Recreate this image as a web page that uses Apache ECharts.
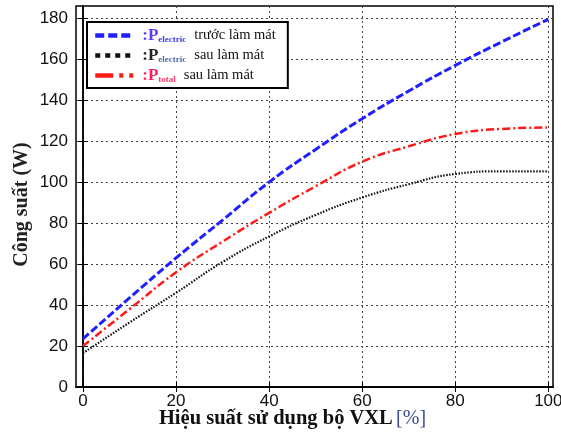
<!DOCTYPE html>
<html><head><meta charset="utf-8">
<script src="https://cdn.jsdelivr.net/npm/echarts@6/dist/echarts.min.js"></script>
<style>html,body{margin:0;padding:0;background:#fff}#c{width:561px;height:434px}</style>
</head><body><div id="c"></div>
<script>
const xValues = [0, 10, 20, 30, 40, 50, 60, 70, 80, 90, 100];
const pElecBefore = [23.5, 43.5, 63, 81.5, 100, 116, 131, 144.5, 157, 168.5, 179.5];
const pElecAfter = [16.5, 31.5, 46, 61, 73.5, 84, 92.5, 99, 104, 105.3, 105.3];
const pTotalAfter = [20, 38, 56, 71, 85, 98, 110, 117.5, 123.5, 126, 126.7];
const xTicks = [0, 20, 40, 60, 80, 100];
const yTicks = [0, 20, 40, 60, 80, 100, 120, 140, 160, 180];
const seriesNames = ['Pelectric trước làm mát', 'Pelectric sau làm mát', 'Ptotal sau làm mát'];
const xTitle = 'Hiệu suất sử dụng bộ VXL';
const xUnit = '[%]';
const yTitle = 'Công suất (W)';

const chart = echarts.init(document.getElementById('c'), null, {renderer: 'canvas'});
const pair = arr => xValues.map((x, i) => [x, arr[i]]);
const gridLine = {show: true, lineStyle: {color: '#444', width: 1, type: [2, 3]}};
const tickIn = vals => ({show: true, inside: true, length: 5, lineStyle: {color: '#000', width: 1}, customValues: vals});
const labelFont = {fontFamily: 'Liberation Sans', fontSize: 17, color: '#111'};

const legendFmt = {};
legendFmt[seriesNames[0]] = '{p1|:P}{s1|electric}{sp| }{t|trước làm mát}';
legendFmt[seriesNames[1]] = '{p2|:P}{s2|electric}{sp| }{t|sau làm mát}';
legendFmt[seriesNames[2]] = '{p3|:P}{s3|total}{sp| }{t|sau làm mát}';

chart.setOption({
  animation: false,
  backgroundColor: '#fff',
  grid: {left: 76, right: 8, top: 6, bottom: 47, containLabel: false, outerBoundsMode: 'none',
    show: true, borderColor: '#000', borderWidth: 1.5, backgroundColor: 'transparent'},
  xAxis: [{
    type: 'value', min: -1.5, max: 101, position: 'bottom',
    axisLine: {show: true, lineStyle: {color: '#000', width: 1.5}},
    axisTick: tickIn(xTicks),
    axisLabel: Object.assign({customValues: xTicks, margin: 6}, labelFont),
    splitLine: gridLine,
    name: '{b|' + xTitle + '} {u|' + xUnit + '}', nameLocation: 'middle', nameGap: 21, nameMoveOverlap: false,
    nameTextStyle: {
      padding: [0, 44, 0, 0],
      rich: {
        b: {fontFamily: 'Liberation Serif', fontWeight: 'bold', fontSize: 20.5, color: '#111'},
        u: {fontFamily: 'Liberation Serif', fontSize: 20, color: '#3c4c8c'}
      }
    }
  }, {
    type: 'value', min: -1.5, max: 101, position: 'top',
    axisLine: {show: true, lineStyle: {color: '#000', width: 1.5}},
    axisTick: tickIn(xTicks), axisLabel: {show: false}, splitLine: {show: false}
  }],
  yAxis: [{
    type: 'value', min: 0, max: 186, position: 'left',
    axisLine: {show: true, lineStyle: {color: '#000', width: 1.5}},
    axisTick: tickIn(yTicks),
    axisLabel: Object.assign({customValues: yTicks, margin: 8}, labelFont),
    splitLine: gridLine,
    name: yTitle, nameLocation: 'middle', nameGap: 44, nameRotate: 90, nameMoveOverlap: false,
    nameTextStyle: {fontFamily: 'Liberation Serif', fontWeight: 'bold', fontSize: 20, color: '#222', padding: [0, 16, 0, 0]}
  }, {
    type: 'value', min: 0, max: 186, position: 'right',
    axisLine: {show: true, lineStyle: {color: '#000', width: 1.5}},
    axisTick: tickIn(yTicks), axisLabel: {show: false}, splitLine: {show: false}
  }],
  legend: {
    orient: 'vertical', left: 87, top: 22,
    backgroundColor: '#fff', borderColor: '#000', borderWidth: 2,
    padding: [5, 12, 4, 6], itemGap: 3, itemWidth: 38, itemHeight: 16,
    data: [
      {name: seriesNames[0], itemStyle: {opacity: 0}, lineStyle: {width: 4.5, type: [9, 4], color: '#1f1fff'}},
      {name: seriesNames[1], itemStyle: {opacity: 0}, lineStyle: {width: 4.5, type: [5, 5], color: '#111'}},
      {name: seriesNames[2], itemStyle: {opacity: 0}, lineStyle: {width: 4.5, type: [18, 6, 4, 6], color: '#ff1a1a'}}
    ],
    formatter: function (name) { return legendFmt[name]; },
    textStyle: {
      fontFamily: 'Liberation Serif', fontSize: 14, color: '#111',
      rich: {
        p1: {fontFamily: 'Liberation Serif', fontWeight: 'bold', fontSize: 17, color: '#5a3cff', padding: [0, 0, 0, 4]},
        s1: {fontFamily: 'Liberation Serif', fontWeight: 'bold', fontSize: 9, color: '#3a3aff', padding: [8, 0, 0, 0]},
        p2: {fontFamily: 'Liberation Serif', fontWeight: 'bold', fontSize: 17, color: '#222', padding: [0, 0, 0, 4]},
        s2: {fontFamily: 'Liberation Serif', fontWeight: 'bold', fontSize: 9, color: '#4a6aaa', padding: [8, 0, 0, 0]},
        p3: {fontFamily: 'Liberation Serif', fontWeight: 'bold', fontSize: 17, color: '#ff2060', padding: [0, 0, 0, 4]},
        s3: {fontFamily: 'Liberation Serif', fontWeight: 'bold', fontSize: 9, color: '#ff3a6a', padding: [8, 0, 0, 0]},
        sp: {fontSize: 14, width: 8},
        t: {fontFamily: 'Liberation Serif', fontSize: 14.5, color: '#111'}
      }
    }
  },
  series: [
    {name: seriesNames[0], type: 'line', smooth: true, symbol: 'none', data: pair(pElecBefore),
     lineStyle: {color: '#1f1fff', width: 3, type: [8, 3]}, itemStyle: {color: '#1f1fff'}, z: 3},
    {name: seriesNames[1], type: 'line', smooth: true, symbol: 'none', data: pair(pElecAfter),
     lineStyle: {color: '#111', width: 2.2, type: [1.5, 1.5]}, itemStyle: {color: '#111'}, z: 2},
    {name: seriesNames[2], type: 'line', smooth: true, symbol: 'none', data: pair(pTotalAfter),
     lineStyle: {color: '#ff1a1a', width: 2.5, type: [8, 3, 2, 3]}, itemStyle: {color: '#ff1a1a'}, z: 2}
  ]
});
</script></body></html>
